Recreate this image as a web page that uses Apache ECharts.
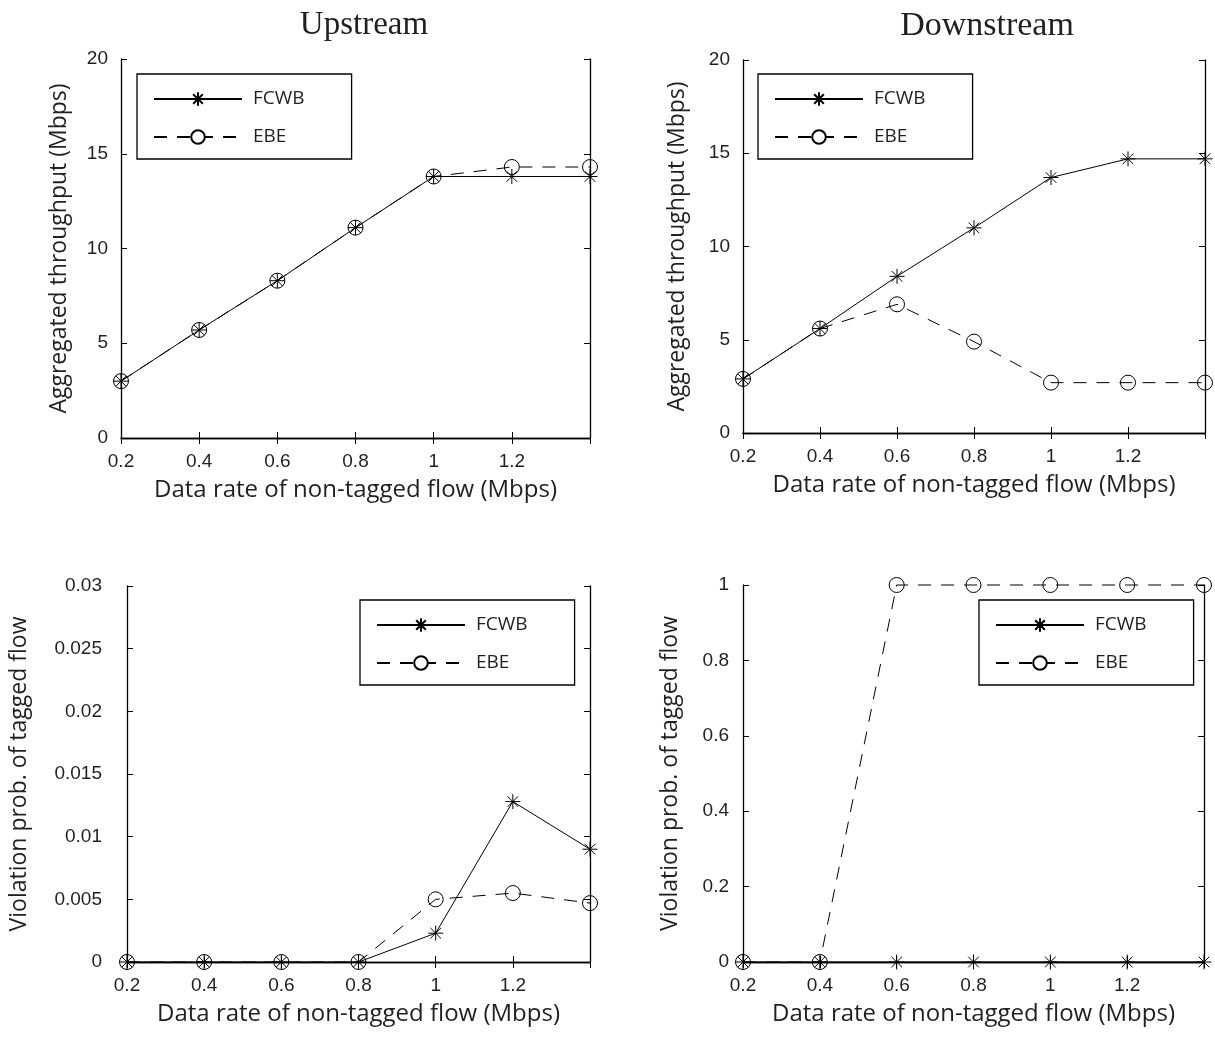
<!DOCTYPE html>
<html>
<head>
<meta charset="utf-8">
<script src="https://cdn.jsdelivr.net/npm/echarts@6/dist/echarts.min.js"></script>
<style>
html,body{margin:0;padding:0;background:#fff;}
#chart{width:1215px;height:1038px;}
</style>
</head>
<body>
<div id="chart"></div>
<script>
// ---- data ----
const xValues = [0.2, 0.4, 0.6, 0.8, 1.0, 1.2, 1.4];
const xTickLabels = ['0.2', '0.4', '0.6', '0.8', '1', '1.2'];
const panelTitles = ['Upstream', 'Downstream'];
const seriesNames = ['FCWB', 'EBE'];
const xAxisName = 'Data rate of non-tagged flow (Mbps)';
const yAxisNames = ['Aggregated throughput (Mbps)', 'Aggregated throughput (Mbps)', 'Violation prob. of tagged flow', 'Violation prob. of tagged flow'];

const upThroughputFCWB = [3.0, 5.7, 8.3, 11.1, 13.8, 13.8, 13.8];
const upThroughputEBE = [3.0, 5.7, 8.3, 11.1, 13.8, 14.3, 14.3];
const downThroughputFCWB = [2.9, 5.6, 8.4, 11.0, 13.7, 14.7, 14.7];
const downThroughputEBE = [2.9, 5.6, 6.9, 4.9, 2.7, 2.7, 2.7];
const upViolationFCWB = [0, 0, 0, 0, 0.0023, 0.0128, 0.009];
const upViolationEBE = [0, 0, 0, 0, 0.005, 0.0055, 0.0047];
const downViolationFCWB = [0, 0, 0, 0, 0, 0, 0];
const downViolationEBE = [0, 0, 1, 1, 1, 1, 1];

const yRanges = [
  {min: 0, max: 20, interval: 5},
  {min: 0, max: 20, interval: 5},
  {min: 0, max: 0.03, interval: 0.005},
  {min: 0, max: 1, interval: 0.2}
];
const panelData = [
  [upThroughputFCWB, upThroughputEBE],
  [downThroughputFCWB, downThroughputEBE],
  [upViolationFCWB, upViolationEBE],
  [downViolationFCWB, downViolationEBE]
];

// ---- layout ----
const grids = [
  {left: 121, top: 59, width: 469, height: 379},
  {left: 743, top: 60, width: 462, height: 373},
  {left: 127, top: 586, width: 463, height: 376},
  {left: 743, top: 585, width: 461, height: 377}
];
const legendPos = [
  {left: 137, top: 74},
  {left: 758, top: 74},
  {left: 360, top: 600},
  {left: 979, top: 600}
];
const yNameGaps = [50, 54, 96, 61];
const yLabelMargins = [13, 13, 25, 14];
const xNameGap = 40;

const txt = '#231f20';
const sansTick = 'Liberation Sans';
const sansName = 'Open Sans';

const starPath = 'path://M0,5L10,5M5,0L5,10M1.46,1.46L8.54,8.54M1.46,8.54L8.54,1.46';

const xAxes = [], yAxes = [], series = [], legends = [];
grids.forEach((g, i) => {
  const baseX = {
    gridIndex: i, type: 'value', min: 0.2, max: 1.4, interval: 0.2,
    axisLine: {show: true, lineStyle: {color: '#000', width: 1.3}},
    axisTick: {show: true, inside: true, length: 6, lineStyle: {color: '#000', width: 1}},
    splitLine: {show: false}
  };
  xAxes.push(Object.assign({}, baseX, {
    position: 'bottom',
    name: xAxisName, nameLocation: 'middle', nameGap: xNameGap,
    nameTextStyle: {fontFamily: sansName, fontSize: 24, color: txt},
    axisLabel: {
      show: true, margin: 14, fontFamily: sansTick, fontSize: 19, color: txt,
      formatter: function (v) {
        const k = Math.round((v - 0.2) / 0.2);
        return xTickLabels[k] !== undefined ? xTickLabels[k] : '';
      }
    }
  }));
  xAxes.push(Object.assign({}, baseX, {position: 'top', axisLabel: {show: false}}));
  const r = yRanges[i];
  const baseY = {
    gridIndex: i, type: 'value', min: r.min, max: r.max, interval: r.interval,
    axisLine: {show: true, lineStyle: {color: '#000', width: 1.3}},
    axisTick: {show: true, inside: true, length: 6, lineStyle: {color: '#000', width: 1}},
    splitLine: {show: false}
  };
  yAxes.push(Object.assign({}, baseY, {
    position: 'left',
    name: yAxisNames[i], nameLocation: 'middle', nameGap: yNameGaps[i],
    nameTextStyle: {fontFamily: sansName, fontSize: 23, color: txt},
    axisLabel: {show: true, margin: yLabelMargins[i], fontFamily: sansTick, fontSize: 19, color: txt}
  }));
  yAxes.push(Object.assign({}, baseY, {position: 'right', axisLabel: {show: false}}));

  const d = panelData[i];
  series.push({
    name: seriesNames[0], type: 'line', xAxisIndex: 2 * i, yAxisIndex: 2 * i,
    data: xValues.map((x, k) => [x, d[0][k]]),
    symbol: starPath, symbolSize: 15, symbolKeepAspect: true,
    itemStyle: {color: '#000', borderColor: '#000', borderWidth: 1},
    lineStyle: {color: '#000', width: 1, type: 'solid'},
    clip: false, z: 2
  });
  series.push({
    name: seriesNames[1], type: 'line', xAxisIndex: 2 * i, yAxisIndex: 2 * i,
    data: xValues.map((x, k) => [x, d[1][k]]),
    symbol: 'circle', symbolSize: 15,
    itemStyle: {color: 'rgba(0,0,0,0)', borderColor: '#000', borderWidth: 1},
    lineStyle: {color: '#000', width: 1, type: [13, 10]},
    clip: false, z: 3
  });

  legends.push({
    left: legendPos[i].left, top: legendPos[i].top,
    orient: 'vertical',
    data: seriesNames,
    selectedMode: false,
    itemWidth: 88, itemHeight: 17, itemGap: 18,
    padding: [15, 47, 12, 16],
    borderColor: '#000', borderWidth: 1.3, borderRadius: 0,
    backgroundColor: '#fff',
    itemStyle: {color: '#fff'},
    textStyle: {fontFamily: sansName, fontSize: 19, color: txt, lineHeight: 20, padding: [0, 0, 0, 6]}
  });
});

const titles = [
  {text: panelTitles[0], left: 359, top: 4, textAlign: 'center',
   textStyle: {fontFamily: 'Liberation Serif', fontSize: 33, fontWeight: 'normal', color: txt}},
  {text: panelTitles[1], left: 982, top: 4, textAlign: 'center',
   textStyle: {fontFamily: 'Liberation Serif', fontSize: 34, fontWeight: 'normal', color: txt}}
];

const chart = echarts.init(document.getElementById('chart'), null, {renderer: 'canvas'});
chart.setOption({
  animation: false,
  backgroundColor: '#fff',
  title: titles,
  grid: grids.map(g => Object.assign({containLabel: false}, g)),
  xAxis: xAxes,
  yAxis: yAxes,
  legend: legends,
  series: series
});
</script>
</body>
</html>
